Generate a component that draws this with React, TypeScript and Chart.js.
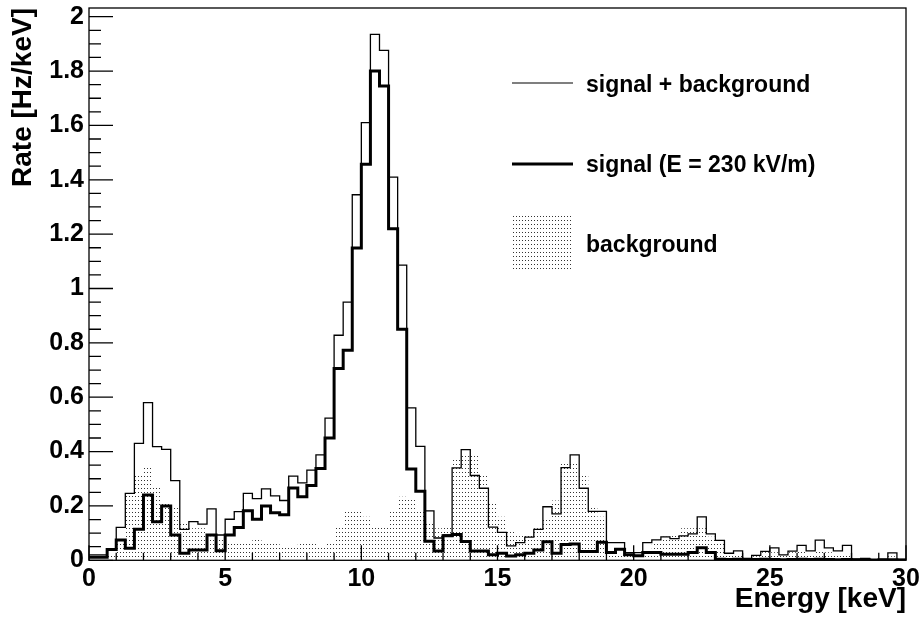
import React, { useEffect, useRef } from "react";
import { Chart, registerables } from "chart.js";

Chart.register(...registerables);

// ---- axis ranges & ticks ----
const X_MIN = 0;
const X_MAX = 30;
const Y_MIN = 0;
const Y_MAX = 2.032;
const X_TICKS = [0, 5, 10, 15, 20, 25, 30];
const Y_TICKS = [0, 0.2, 0.4, 0.6, 0.8, 1, 1.2, 1.4, 1.6, 1.8, 2];
const X_MINOR_STEP = 1;
const Y_MINOR_STEP = 0.05;

const X_TITLE = "Energy [keV]";
const Y_TITLE = "Rate [Hz/keV]";
const LEGEND_LABELS = ["signal + background", "signal (E = 230 kV/m)", "background"];

// ---- histogram contents (90 bins of 1/3 keV, 0..30 keV) ----
const TOTAL = [
  0.02, 0.02, 0.04, 0.121, 0.246, 0.43, 0.58, 0.418, 0.408, 0.293,
  0.114, 0.142, 0.133, 0.189, 0.093, 0.151, 0.179, 0.246, 0.227, 0.263,
  0.237, 0.22, 0.31, 0.285, 0.332, 0.388, 0.523, 0.828, 0.95, 1.345,
  1.61, 1.935, 1.876, 1.41, 1.086, 0.561, 0.419, 0.182, 0.082, 0.093,
  0.34, 0.407, 0.312, 0.265, 0.122, 0.103, 0.053, 0.065, 0.085, 0.114,
  0.197, 0.171, 0.341, 0.388, 0.265, 0.18, 0.18, 0.065, 0.065, 0.028,
  0.028, 0.065, 0.075, 0.086, 0.08, 0.09, 0.097, 0.16, 0.097, 0.073,
  0.026, 0.035, 0.007, 0.018, 0.033, 0.046, 0.02, 0.034, 0.055, 0.035,
  0.074, 0.046, 0.035, 0.055, 0.004, 0.007, 0.001, 0.003, 0.027, 0.003,
];

const SIGNAL = [
  0.011, 0.011, 0.04, 0.075, 0.044, 0.114, 0.24, 0.142, 0.2, 0.093,
  0.026, 0.038, 0.038, 0.093, 0.035, 0.093, 0.121, 0.182, 0.151, 0.2,
  0.175, 0.168, 0.266, 0.234, 0.275, 0.338, 0.45, 0.706, 0.773, 1.149,
  1.457, 1.8, 1.745, 1.22, 0.85, 0.336, 0.254, 0.07, 0.034, 0.09,
  0.095, 0.069, 0.034, 0.034, 0.02, 0.026, 0.016, 0.02, 0.026, 0.038,
  0.068, 0.026, 0.058, 0.06, 0.032, 0.032, 0.066, 0.029, 0.041, 0.02,
  0.017, 0.029, 0.029, 0.022, 0.022, 0.022, 0.029, 0.046, 0.029, 0.004,
  0.003, 0.004, 0.002, 0.003, 0.004, 0.003, 0.002, 0.003, 0.004, 0.003,
  0.004, 0.003, 0.002, 0.003, 0.002, 0.002, 0.001, 0.002, 0.002, 0.001,
];

const BACKGROUND = [
  0.011, 0.011, 0.025, 0.06, 0.246, 0.32, 0.344, 0.277, 0.215, 0.203,
  0.14, 0.118, 0.118, 0.087, 0.075, 0.068, 0.068, 0.068, 0.078, 0.068,
  0.066, 0.05, 0.05, 0.066, 0.066, 0.05, 0.066, 0.13, 0.185, 0.185,
  0.16, 0.13, 0.13, 0.185, 0.234, 0.228, 0.18, 0.136, 0.118, 0.13,
  0.37, 0.39, 0.39, 0.32, 0.215, 0.16, 0.105, 0.093, 0.093, 0.118,
  0.148, 0.22, 0.356, 0.356, 0.31, 0.2, 0.16, 0.025, 0.02, 0.02,
  0.02, 0.03, 0.062, 0.087, 0.093, 0.118, 0.118, 0.118, 0.087, 0.062,
  0.02, 0.02, 0.01, 0.015, 0.03, 0.03, 0.02, 0.03, 0.035, 0.02,
  0.035, 0.03, 0.02, 0.025, 0.005, 0.005, 0.003, 0.003, 0.015, 0.003,
];

const FONT = "'Liberation Sans', Arial, Helvetica, sans-serif";

function toPoints(values: number[]) {
  const w = (X_MAX - X_MIN) / values.length;
  const pts = values.map((v, i) => ({ x: X_MIN + i * w, y: v }));
  pts.push({ x: X_MAX, y: values[values.length - 1] });
  return pts;
}

function makeDots(ctx: CanvasRenderingContext2D): CanvasPattern | string {
  const c = document.createElement("canvas");
  c.width = 3;
  c.height = 4;
  const g = c.getContext("2d");
  if (!g) return "#ccc";
  g.fillStyle = "#333";
  g.fillRect(0, 0, 1, 1);
  return ctx.createPattern(c, "repeat") || "#ccc";
}

export default function App() {
  const ref = useRef<HTMLCanvasElement | null>(null);

  useEffect(() => {
    const canvas = ref.current;
    if (!canvas) return;
    const ctx0 = canvas.getContext("2d");
    if (!ctx0) return;
    const dots = makeDots(ctx0);

    const framePlugin = {
      id: "rootFrame",
      afterDatasetsDraw(chart: any) {
        const { ctx, chartArea: a, scales } = chart;
        const xs = scales.x;
        const ys = scales.y;
        ctx.save();
        ctx.strokeStyle = "#000";
        ctx.lineWidth = 1.3;
        ctx.strokeRect(a.left, a.top, a.right - a.left, a.bottom - a.top);
        ctx.beginPath();
        const nx = Math.round((X_MAX - X_MIN) / X_MINOR_STEP);
        for (let i = 0; i <= nx; i++) {
          const v = X_MIN + i * X_MINOR_STEP;
          const major = X_TICKS.some((t) => Math.abs(t - v) < 1e-6);
          const px = xs.getPixelForValue(v);
          ctx.moveTo(px, a.bottom);
          ctx.lineTo(px, a.bottom - (major ? 15 : 7.5));
        }
        const ny = Math.floor((Y_MAX - Y_MIN) / Y_MINOR_STEP + 1e-6);
        for (let i = 0; i <= ny; i++) {
          const v = Y_MIN + i * Y_MINOR_STEP;
          const major = Y_TICKS.some((t) => Math.abs(t - v) < 1e-6);
          const py = ys.getPixelForValue(v);
          ctx.moveTo(a.left, py);
          ctx.lineTo(a.left + (major ? 24 : 12), py);
        }
        ctx.stroke();
        ctx.restore();
      },
      afterDraw(chart: any) {
        const { ctx } = chart;
        ctx.save();
        ctx.fillStyle = "#000";
        ctx.strokeStyle = "#000";
        ctx.font = `bold 23px ${FONT}`;
        ctx.textBaseline = "alphabetic";
        ctx.textAlign = "left";
        // entry 1: thin line
        ctx.lineWidth = 1.2;
        ctx.beginPath();
        ctx.moveTo(512, 83);
        ctx.lineTo(573, 83);
        ctx.stroke();
        ctx.fillText(LEGEND_LABELS[0], 586, 91.5);
        // entry 2: thick line
        ctx.lineWidth = 3;
        ctx.beginPath();
        ctx.moveTo(512, 164);
        ctx.lineTo(573, 164);
        ctx.stroke();
        ctx.fillText(LEGEND_LABELS[1], 586, 171.5);
        // entry 3: dotted box
        ctx.fillStyle = dots as any;
        ctx.fillRect(512, 216, 61, 56);
        ctx.fillStyle = "#000";
        ctx.fillText(LEGEND_LABELS[2], 586, 251.5);
        ctx.restore();
      },
    };

    const chart = new Chart(canvas, {
      type: "line",
      data: {
        datasets: [
          {
            label: LEGEND_LABELS[1],
            data: toPoints(SIGNAL),
            stepped: "before",
            borderColor: "#000",
            borderWidth: 3,
            pointRadius: 0,
            fill: false,
            borderJoinStyle: "miter",
            borderCapStyle: "butt",
          },
          {
            label: LEGEND_LABELS[0],
            data: toPoints(TOTAL),
            stepped: "before",
            borderColor: "#000",
            borderWidth: 1.3,
            pointRadius: 0,
            fill: false,
            borderJoinStyle: "miter",
            borderCapStyle: "butt",
          },
          {
            label: LEGEND_LABELS[2],
            data: toPoints(BACKGROUND),
            stepped: "before",
            borderWidth: 0,
            borderColor: "rgba(0,0,0,0)",
            backgroundColor: dots as any,
            pointRadius: 0,
            fill: "origin",
          },
        ],
      },
      options: {
        animation: false,
        responsive: false,
        devicePixelRatio: 1,
        layout: { padding: { top: 8, right: 16, left: 0, bottom: 0 } },
        plugins: {
          legend: { display: false },
          tooltip: { enabled: false },
        },
        events: [],
        scales: {
          x: {
            type: "linear",
            min: X_MIN,
            max: X_MAX,
            grid: { display: false, drawTicks: false },
            border: { display: false },
            afterFit: (s: any) => {
              s.height = 57.7;
              s.paddingLeft = 0;
              s.paddingRight = 0;
              s.paddingTop = 0;
              s.paddingBottom = 0;
            },
            afterBuildTicks: (s: any) => {
              s.ticks = X_TICKS.map((v) => ({ value: v }));
            },
            ticks: {
              autoSkip: false,
              maxRotation: 0,
              padding: 4,
              color: "#000",
              font: { family: FONT, size: 25, weight: "bold" },
              callback: (v: any) => String(v),
            },
            title: {
              display: true,
              text: X_TITLE,
              align: "end",
              color: "#000",
              font: { family: FONT, size: 28, weight: "bold" },
              padding: { top: 0, bottom: 2 },
            },
          },
          y: {
            type: "linear",
            min: Y_MIN,
            max: Y_MAX,
            grid: { display: false, drawTicks: false },
            border: { display: false },
            afterFit: (s: any) => {
              s.width = 89;
              s.paddingLeft = 0;
              s.paddingRight = 0;
              s.paddingTop = 0;
              s.paddingBottom = 0;
            },
            afterBuildTicks: (s: any) => {
              s.ticks = Y_TICKS.map((v) => ({ value: v }));
            },
            ticks: {
              autoSkip: false,
              padding: 5,
              color: "#000",
              font: { family: FONT, size: 25, weight: "bold" },
              callback: (v: any) => String(Number(Number(v).toFixed(2))),
            },
            title: {
              display: true,
              text: Y_TITLE,
              align: "end",
              color: "#000",
              font: { family: FONT, size: 28, weight: "bold" },
              padding: { top: 6, bottom: 0 },
            },
          },
        },
      },
      plugins: [framePlugin],
    } as any);

    return () => chart.destroy();
  }, []);

  return (
    <div style={{ position: "absolute", left: 0, top: 0, width: 922, height: 618, background: "#fff" }}>
      <canvas ref={ref} width={922} height={618} style={{ display: "block", width: 922, height: 618 }} />
    </div>
  );
}
